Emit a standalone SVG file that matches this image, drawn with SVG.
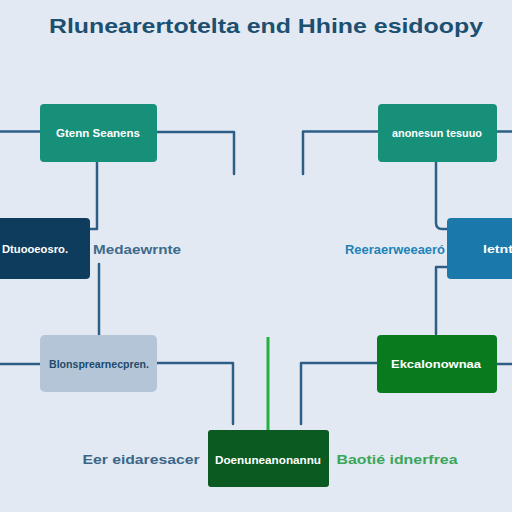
<svg xmlns="http://www.w3.org/2000/svg" width="512" height="512" viewBox="0 0 512 512">
<style>
.bg{fill:#e2e9f2}
.ln{fill:none;stroke:#2d5f86;stroke-width:2.5;stroke-linecap:round;stroke-linejoin:round}
.gl{fill:none;stroke:#21b23e;stroke-width:3}
.t{font-family:"Liberation Sans",Arial,sans-serif;font-weight:bold;text-anchor:middle}
.w{fill:#ffffff;font-size:10px}
.lab{font-size:12px}
</style>
<rect class="bg" width="512" height="512"/>
<text class="t" x="266" y="33" font-size="21" fill="#1d4f70" textLength="434" lengthAdjust="spacingAndGlyphs">Rlunearertotelta end Hhine esidoopy</text>
<g id="connectors">
<path class="ln" d="M0 131.5H40"/>
<path class="ln" d="M157 132H234V174"/>
<path class="ln" d="M97 162V229H90"/>
<path class="ln" d="M303 174V131.5H378"/>
<path class="ln" d="M497 131.5H512"/>
<path class="ln" d="M436 162V223Q436 229 442 229H447"/>
<path class="ln" d="M447 267H436V334"/>
<path class="ln" d="M99 264V335"/>
<path class="ln" d="M0 364H40"/>
<path class="ln" d="M157 363H233V424"/>
<path class="ln" d="M301 424V363H377"/>
<path class="ln" d="M497 364H512"/>
<path class="gl" d="M268 337V430"/>
</g>
<g id="n1">
<rect x="40" y="104" width="117" height="58" rx="4" fill="#17907a"/>
<text class="t w" x="98" y="137" textLength="84" lengthAdjust="spacingAndGlyphs">Gtenn Seanens</text>
</g>
<g id="n2">
<rect x="378" y="104" width="119" height="58" rx="4" fill="#17907a"/>
<text class="t w" x="437" y="137" textLength="90" lengthAdjust="spacingAndGlyphs">anonesun tesuuo</text>
</g>
<g id="n3">
<rect x="-6" y="218" width="96" height="61" rx="4" fill="#0e3c5d"/>
<text class="t w" x="35" y="253" textLength="66" lengthAdjust="spacingAndGlyphs">Dtuooeosro.</text>
</g>
<g id="l3">
<text class="t lab" x="137" y="254" fill="#406a8b" textLength="88" lengthAdjust="spacingAndGlyphs">Medaewrnte</text>
</g>
<g id="n4">
<rect x="447" y="218" width="71" height="61" rx="4" fill="#1a79aa"/>
<text class="t w" x="498" y="253" textLength="30" lengthAdjust="spacingAndGlyphs">letnt</text>
</g>
<g id="l4">
<text class="t lab" x="395" y="254" fill="#1d83b8" textLength="100" lengthAdjust="spacingAndGlyphs">Reeraerweeaeró</text>
</g>
<g id="n5">
<rect x="40" y="335" width="117" height="57" rx="5" fill="#b4c5d8"/>
<text class="t" x="99" y="368" font-size="10" fill="#1d4a6b" textLength="100" lengthAdjust="spacingAndGlyphs">Blonsprearnecpren.</text>
</g>
<g id="n6">
<rect x="377" y="335" width="120" height="58" rx="4" fill="#0a7a1e"/>
<text class="t w" x="436" y="368" textLength="90" lengthAdjust="spacingAndGlyphs">Ekcalonownaa</text>
</g>
<g id="n7">
<rect x="208" y="430" width="121" height="57" rx="3" fill="#0a5a22"/>
<text class="t w" x="268" y="464" textLength="106" lengthAdjust="spacingAndGlyphs">Doenuneanonannu</text>
</g>
<g id="l7a">
<text class="t" x="141" y="464" font-size="13" fill="#3b6688" textLength="117" lengthAdjust="spacingAndGlyphs">Eer eidaresacer</text>
</g>
<g id="l7b">
<text class="t" x="397" y="464" font-size="13" fill="#3aa65a" textLength="121" lengthAdjust="spacingAndGlyphs">Baotié idnerfrea</text>
</g>
</svg>
